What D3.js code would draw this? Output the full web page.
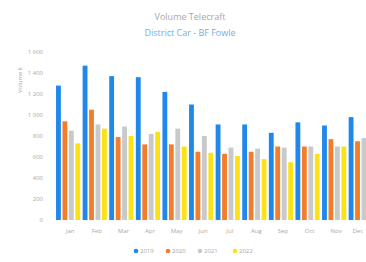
<!DOCTYPE html>
<html>
<head>
<meta charset="utf-8">
<script src="https://cdn.jsdelivr.net/npm/d3@7"></script>
<style>
  body { margin: 0; background: #fff; }
  text { font-family: "Open Sans", "DejaVu Sans", sans-serif; }
</style>
</head>
<body>
<svg></svg>
<script>
//introduce the dataset
var months = ['Jan', 'Feb', 'Mar', 'Apr', 'May', 'Jun', 'Jul', 'Aug', 'Sep', 'Oct', 'Nov', 'Dec'];
var seriesNames = ['2019', '2020', '2021', '2022'];
var values2019 = [1280, 1470, 1370, 1360, 1220, 1100, 910, 910, 830, 930, 900, 980];
var values2020 = [940, 1050, 790, 720, 720, 650, 630, 650, 700, 700, 770, 750];
var values2021 = [850, 910, 890, 820, 870, 800, 690, 680, 690, 700, 700, 780];
var values2022 = [730, 870, 800, 840, 700, 640, 610, 580, 550, 630, 700, 700];
var yTicks = [0, 200, 400, 600, 800, 1000, 1200, 1400, 1600];
var colors = ['#2088ea', '#f47d2c', '#c9c9c9', '#fbe116'];

var allValues = [values2019, values2020, values2021, values2022];

//build one row per month for the grouped bars
var rows = months.map(function(m, i) {
  return {
    month: m,
    vals: seriesNames.map(function(s, j) {
      return { key: s, value: allValues[j][i] };
    })
  };
});

var width = 366, height = 262;
var svg = d3.select('svg')
  .attr("width", width)
  .attr("height", height);

// scales
var x0 = d3.scaleBand()
  .range([54.7, 374.2])
  .domain(months)
  .paddingInner(0.09)
  .paddingOuter(0.05);

var x1 = d3.scaleBand()
  .range([0, x0.bandwidth()])
  .domain(seriesNames)
  .paddingInner(0.25);

var y = d3.scaleLinear()
  .range([220, 52])
  .domain([0, 1600]);

var color = d3.scaleOrdinal()
  .domain(seriesNames)
  .range(colors);

// titles
svg.append("text")
  .attr("x", 190)
  .attr("y", 20)
  .attr("text-anchor", "middle")
  .style("font-size", "9px")
  .style("fill", "#a8a8a8")
  .text("Volume Telecraft");

svg.append("text")
  .attr("x", 190)
  .attr("y", 36)
  .attr("text-anchor", "middle")
  .style("font-size", "9px")
  .style("fill", "#74aee0")
  .text("District Car - BF Fowle");

// y axis (labels only)
var yAxis = svg.append("g")
  .attr("transform", "translate(46,0)")
  .call(d3.axisLeft(y).tickValues(yTicks).tickSize(0)
    .tickFormat(function(d) { return d3.format(",")(d).replace(",", " "); }));
yAxis.select(".domain").remove();
yAxis.selectAll("text")
  .style("font-size", "6px")
  .style("fill", "#a8a8a8")
  .style("font-family", "'Open Sans', sans-serif");

svg.append("text")
  .attr("transform", "translate(22,80) rotate(-90)")
  .attr("text-anchor", "middle")
  .style("font-size", "6px")
  .style("fill", "#a8a8a8")
  .text("Volume k");

// bars
var groups = svg.selectAll(".group")
  .data(rows)
  .enter().append("g")
  .attr("class", "group")
  .attr("transform", function(d) { return "translate(" + x0(d.month) + ",0)"; });

groups.selectAll("rect")
  .data(function(d) { return d.vals; })
  .enter().append("rect")
  .attr("x", function(d) { return x1(d.key); })
  .attr("y", function(d) { return y(d.value); })
  .attr("width", x1.bandwidth())
  .attr("height", function(d) { return y(0) - y(d.value); })
  .style("fill", function(d) { return color(d.key); });

// x axis (labels only)
var xAxis = svg.append("g")
  .attr("transform", "translate(2,226)")
  .call(d3.axisBottom(x0).tickSize(0));
xAxis.select(".domain").remove();
xAxis.selectAll("text")
  .style("font-size", "6px")
  .style("fill", "#a8a8a8")
  .style("font-family", "'Open Sans', sans-serif");
// keep the last month label inside the picture
xAxis.selectAll(".tick text")
  .filter(function(d) { return d === months[months.length - 1]; })
  .attr("text-anchor", "end")
  .attr("x", 363 - 2 - x0(months[months.length - 1]) - x0.bandwidth() / 2);

//legend
var legendX = [136, 168, 200, 235];
var legend = svg.selectAll('.legend')
  .data(seriesNames)
  .enter().append('g')
  .attr("class", "legend")
  .attr("transform", function(d, i) { return "translate(" + legendX[i] + ",251)"; });

legend.append("circle")
  .attr("r", 2.3)
  .style("fill", function(d) { return color(d); });

legend.append("text")
  .attr("x", 4)
  .attr("y", 2)
  .style("font-size", "6px")
  .style("fill", "#a8a8a8")
  .text(function(d) { return d; });
</script>
</body>
</html>
